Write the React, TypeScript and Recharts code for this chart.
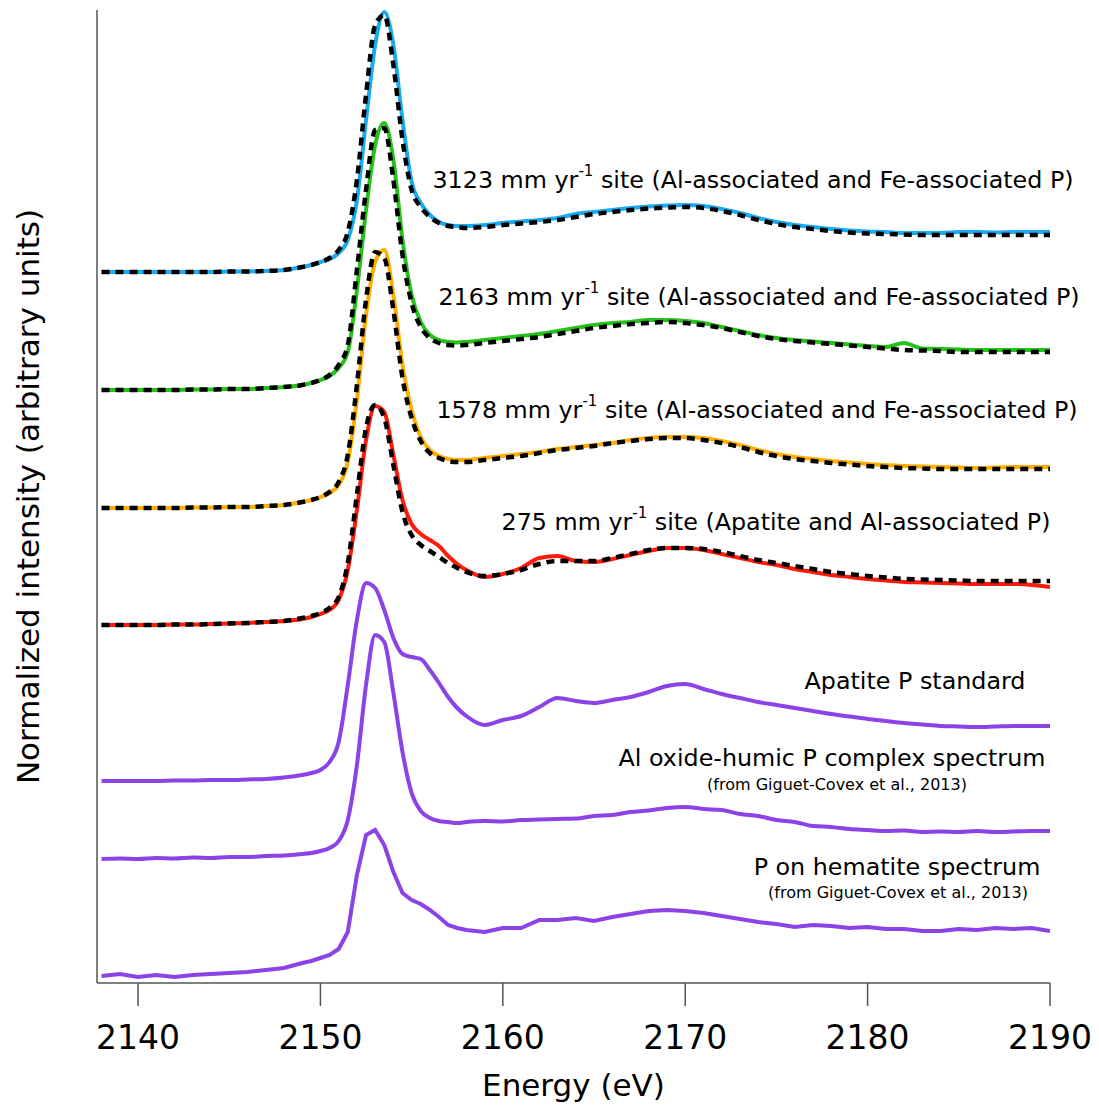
import { LineChart, Line, XAxis, YAxis } from 'recharts';

// energy grid (eV), finer through the white line
const energy = [
  2138, 2139, 2140, 2141, 2142, 2143, 2144, 2145, 2146, 2147, 2148, 2149,
  2149.5, 2150, 2150.5, 2151, 2151.5, 2152, 2152.5, 2153, 2153.5, 2154, 2154.5, 2155, 2155.5, 2156, 2156.5, 2157, 2157.5, 2158,
  2159, 2160, 2161, 2162, 2163, 2164, 2165, 2166, 2167, 2168, 2169, 2170, 2171, 2172, 2173, 2174, 2175, 2176,
  2177, 2178, 2179, 2180, 2181, 2182, 2183, 2184, 2185, 2186, 2187, 2188, 2189, 2190,
];

// normalized intensity, each spectrum relative to its own pre-edge baseline
const site3123 = [
  0, 0, 0, 0, 0, 0, 0, 0.5, 0.5, 1, 2, 5,
  7, 10, 13, 19, 32, 72, 152, 227, 260, 227, 152, 90, 69, 57, 50, 47, 46, 46,
  47, 49, 50.5, 52, 54, 58, 60, 62, 64, 65.5, 66.5, 67, 66, 63, 59, 54, 50, 47,
  45, 43, 41.5, 40.5, 40, 39, 39, 39, 40, 40, 39.5, 40, 40, 40,
];
const fit3123 = [
  0, 0, 0, 0, 0, 0, 0, 0.5, 0.5, 1, 2, 5,
  7, 10, 14, 22, 40, 92, 177, 247, 257, 207, 132, 82, 65, 55, 49, 46, 45, 44,
  45, 47, 48.5, 50, 52, 55, 58, 60, 62, 63.5, 64.5, 65, 64, 61, 57, 52, 48, 45,
  43, 41, 39.5, 38.5, 38, 37.5, 37, 37, 37, 37, 37, 37, 37, 37,
];
const site2163 = [
  0, 0, 0, 0, 0, 0.5, 0.5, 1, 1, 2, 3, 5,
  7, 10, 14, 22, 38, 100, 180, 245, 267, 230, 150, 95, 68, 55, 50, 48, 47.5, 48,
  50, 52, 54, 56, 59, 62, 65, 67, 68, 70, 70, 69, 67, 63, 59, 55, 52, 50,
  48.5, 47, 45.5, 44, 43, 47, 41.5, 41, 40.5, 40, 40, 40, 40, 40,
];
const fit2163 = [
  0, 0, 0, 0, 0, 0.5, 0.5, 1, 1, 2, 3, 5,
  7, 10, 15, 25, 45, 120, 200, 260, 262, 210, 135, 87, 63, 52, 47, 45, 44.5, 45,
  47, 49, 51, 53, 56, 59, 62, 64, 66, 67, 68, 67, 65, 62, 58, 54, 51, 49,
  47.5, 46, 44.5, 43, 41.5, 40, 39.5, 39, 38, 38, 38, 38, 38, 38,
];
const site1578 = [
  0, 0, 0, 0, 0, 0.5, 0.5, 1, 1, 2, 3, 6,
  8, 11, 15, 23, 46, 108, 193, 246, 258, 213, 143, 98, 71, 58, 52, 49, 48, 48,
  50, 52, 54, 56, 59, 61, 63, 65, 68, 70, 71, 71, 70, 67, 63, 58, 54, 51,
  49, 47, 45.5, 44, 43, 42, 41.5, 41, 40.5, 40, 40.5, 41, 41, 41,
];
const fit1578 = [
  0, 0, 0, 0, 0, 0.5, 0.5, 1, 1, 2, 3, 6,
  8, 11, 16, 26, 53, 123, 208, 256, 250, 198, 130, 90, 67, 55, 50, 47, 46, 46,
  48, 50, 52, 55, 58, 60, 62, 65, 67, 69, 70, 70, 68, 65, 61, 56, 52, 49,
  47, 45, 43.5, 42, 41, 40, 39.5, 39, 39, 39, 39, 39, 39, 39,
];
const site275 = [
  0, 0, 0, 0, 0.5, 0.5, 1, 1.5, 2, 3, 4, 6,
  8, 11, 15, 25, 55, 115, 185, 219, 213, 170, 125, 101, 91, 85, 79, 69, 61, 55,
  48, 51, 57, 67, 69, 64, 63, 66, 70, 74, 77, 77, 75, 71, 67, 63, 60, 56,
  53, 50, 48, 46, 44.5, 43, 42.5, 42, 41.5, 41, 41, 41, 40, 38,
];
const fit275 = [
  0, 0, 0, 0, 0.5, 0.5, 1, 1.5, 2, 3, 4, 7,
  9, 12, 17, 28, 62, 130, 197, 220, 207, 160, 113, 90, 80, 74, 68, 62, 57, 53,
  49, 51, 55, 61, 64, 64, 64, 67, 71, 75, 77, 77, 76, 73, 69, 65, 62, 59,
  56, 53, 51, 49, 47.5, 46, 45.5, 45, 44.5, 44, 44, 44, 44, 44,
];
const apatite = [
  0, 0, 0, 0, 0.5, 0.5, 1, 1, 1.5, 2, 3.5, 6,
  8, 11, 19, 39, 96, 161, 198, 193, 171, 143, 127, 124, 122, 111, 98, 84, 73, 65,
  56, 61, 65, 74, 83, 80, 78, 81, 84, 89, 95, 97, 92, 87, 83, 79, 76, 73,
  70, 67, 64.5, 62, 60, 58, 56.5, 55, 54.5, 54, 54.5, 55, 55, 55,
];
const alHumic = [
  0, 0.5, 0, 1, 0.5, 1.5, 1, 2, 2, 3, 3.5, 5,
  6, 8, 11, 18, 39, 94, 174, 224, 217, 166, 107, 66, 48, 41, 38, 37, 36, 37,
  38, 37.5, 39, 39.5, 40, 40.5, 43, 44, 47, 48.5, 51, 52, 50, 49, 45, 43, 39, 37,
  33, 32, 30, 29, 28, 28.5, 27, 27.5, 27, 28, 27, 27.5, 28, 28,
];
const hematite = [
  0, 2, -1, 1, -1, 1, 2, 3, 4, 6, 8, 13,
  15, 18, 21, 27, 44, 101, 141, 146, 131, 104, 83, 76, 72, 66, 59, 51, 48, 46,
  44, 48, 48, 56, 56, 58, 55, 59, 62, 65, 66, 65, 63, 60, 57, 54, 52, 49,
  51, 50, 48, 49, 47, 47, 45, 45, 47, 46, 48, 47, 48, 45,
];

// vertical stacking offsets
const offsets = [711, 593, 475, 358, 202, 124, 7];
const xTicks = [2140, 2150, 2160, 2170, 2180, 2190];

const series = [
  { key: 's3123', values: site3123, fit: fit3123, color: '#19aaf0', curve: 'monotone' },
  { key: 's2163', values: site2163, fit: fit2163, color: '#25c21a', curve: 'monotone' },
  { key: 's1578', values: site1578, fit: fit1578, color: '#ffae00', curve: 'monotone' },
  { key: 's275', values: site275, fit: fit275, color: '#ff1a0a', curve: 'monotone' },
  { key: 'apatite', values: apatite, fit: null, color: '#8b42e6', curve: 'monotone' },
  { key: 'alHumic', values: alHumic, fit: null, color: '#8b42e6', curve: 'monotone' },
  { key: 'hematite', values: hematite, fit: null, color: '#8b42e6', curve: 'linear' },
];

const data = energy.map((e, i) => {
  const row: Record<string, number> = { energy: e };
  series.forEach((s, k) => {
    row[s.key] = offsets[k] + s.values[i];
    if (s.fit) row[s.key + 'Fit'] = offsets[k] + s.fit[i];
  });
  return row;
});

const FONT = '"DejaVu Sans", sans-serif';

const labels = [
  { x: 753, y: 180, main: '3123 mm yr', sup: '-1', rest: ' site (Al-associated and Fe-associated P)' },
  { x: 759, y: 297, main: '2163 mm yr', sup: '-1', rest: ' site (Al-associated and Fe-associated P)' },
  { x: 757, y: 410, main: '1578 mm yr', sup: '-1', rest: ' site (Al-associated and Fe-associated P)' },
  { x: 776, y: 522, main: '275 mm yr', sup: '-1', rest: ' site (Apatite and Al-associated P)' },
  { x: 915, y: 681, main: 'Apatite P standard' },
  { x: 832, y: 758, main: 'Al oxide-humic P complex spectrum' },
  { x: 837, y: 785, main: '(from Giguet-Covex et al., 2013)', small: true },
  { x: 897, y: 867, main: 'P on hematite spectrum' },
  { x: 898, y: 893, main: '(from Giguet-Covex et al., 2013)', small: true },
];

export default function App() {
  return (
    <div style={{ position: 'absolute', left: 0, top: 0, width: 1099, height: 1106, background: '#fff', fontFamily: FONT }}>
      <LineChart width={1099} height={1106} data={data} margin={{ top: 10, right: 49, bottom: 0, left: 0 }} style={{ fontFamily: FONT }}>
        <XAxis
          dataKey="energy"
          type="number"
          domain={[2137.75, 2190]}
          ticks={xTicks}
          allowDataOverflow
          height={123}
          tickSize={23}
          tickMargin={20}
          stroke="#555"
          strokeWidth={1.5}
          tick={{ fontSize: 33, fill: '#000' }}
          label={{ value: 'Energy (eV)', position: 'insideBottom', offset: 10, fontSize: 31, fill: '#000' }}
        />
        <YAxis
          type="number"
          domain={[0, 973]}
          allowDataOverflow
          width={97}
          tick={false}
          tickLine={false}
          stroke="#555"
          strokeWidth={1.5}
          label={{
            value: 'Normalized intensity (arbitrary units)',
            angle: -90,
            position: 'insideLeft',
            offset: 28,
            fontSize: 31,
            fill: '#000',
            style: { textAnchor: 'middle' },
          }}
        />
        {series.map((s) => (
          <Line
            key={s.key}
            dataKey={s.key}
            type={s.curve as 'monotone' | 'linear'}
            stroke={s.color}
            strokeWidth={4}
            dot={false}
            activeDot={false}
            isAnimationActive={false}
          />
        ))}
        {series.filter((s) => s.fit).map((s) => (
          <Line
            key={s.key + 'Fit'}
            dataKey={s.key + 'Fit'}
            type="monotone"
            stroke="#000"
            strokeWidth={4.5}
            strokeDasharray="8 6"
            dot={false}
            activeDot={false}
            isAnimationActive={false}
          />
        ))}
      </LineChart>
      {labels.map((l) => (
        <div
          key={l.main + l.y}
          style={{
            position: 'absolute',
            left: l.x,
            top: l.y,
            transform: 'translate(-50%, -50%)',
            whiteSpace: 'nowrap',
            color: '#000',
            fontSize: l.small ? 16 : 23.8,
            lineHeight: 1.2,
          }}
        >
          {l.main}
          {l.sup && <sup style={{ fontSize: 15, position: 'relative', top: -3 }}>{l.sup}</sup>}
          {l.rest}
        </div>
      ))}
    </div>
  );
}
